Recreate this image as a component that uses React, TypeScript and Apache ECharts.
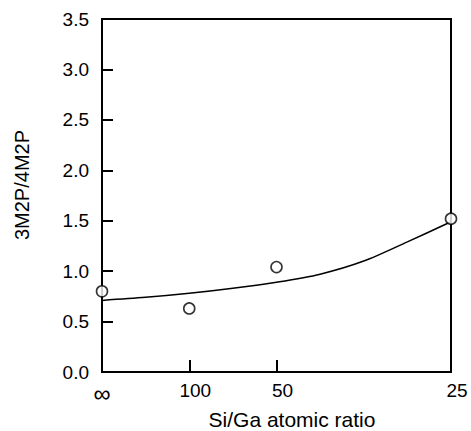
import React, { useEffect, useRef } from "react";
import * as echarts from "echarts";

// Ga/Si (= 1 / (Si/Ga)) positions of the measured samples
const sampleX = [0, 0.01, 0.02, 0.04];
const sampleY = [0.8, 0.63, 1.04, 1.52];
// fitted curve
const curveX = [0, 0.005, 0.01, 0.015, 0.02, 0.025, 0.03, 0.035, 0.04];
const curveY = [0.71, 0.74, 0.78, 0.83, 0.89, 0.97, 1.1, 1.29, 1.49];
// tick labels on the x axis (Si/Ga ratio)
const xTickValues = [0, 0.01, 0.02, 0.04];
const xTickLabels = ["∞", "100", "50", "25"];
const yTicks = [0, 0.5, 1, 1.5, 2, 2.5, 3, 3.5];

const FONT = "Liberation Sans, Arial, Helvetica, sans-serif";

export default function App() {
  const ref = useRef<HTMLDivElement>(null);
  useEffect(() => {
    const chart = echarts.init(ref.current!, null, { renderer: "svg" });
    const gl = 102, gt = 19, gr = 20, gb = 59;
    chart.setOption({
      animation: false,
      backgroundColor: "#fff",
      grid: {
        left: gl, top: gt, right: gr, bottom: gb,
        show: true, borderColor: "#000", borderWidth: 2, backgroundColor: "transparent",
      },
      xAxis: {
        type: "value",
        min: 0, max: 0.04, interval: 0.01,
        splitLine: { show: false },
        axisLine: { show: true, lineStyle: { color: "#000", width: 2 } },
        axisTick: { show: true, inside: true, length: 12, customValues: [0.01, 0.02], lineStyle: { color: "#000", width: 2 } },
        axisLabel: {
          customValues: xTickValues,
          margin: 9,
          color: "#000",
          fontFamily: FONT,
          fontSize: 19,
          formatter: (v: number) => {
            const i = xTickValues.findIndex((t) => Math.abs(t - v) < 1e-9);
            if (i < 0) return "";
            return i === 0 ? "{inf|" + xTickLabels[i] + "}" : "{n|" + xTickLabels[i] + "}";
          },
          rich: {
            inf: { fontSize: 24, fontFamily: FONT, color: "#000", padding: [0, 0, 4, 0] },
            n: { fontSize: 19, fontFamily: FONT, color: "#000", padding: [0, 0, 0, 12] },
          },
        },
      },
      yAxis: {
        type: "value",
        min: 0, max: 3.5, interval: 0.5,
        splitLine: { show: false },
        axisLine: { show: true, lineStyle: { color: "#000", width: 2 } },
        axisTick: { show: true, inside: true, length: 11, customValues: yTicks.slice(1, -1), lineStyle: { color: "#000", width: 2 } },
        axisLabel: {
          margin: 13,
          color: "#000",
          fontFamily: FONT,
          fontSize: 19,
          formatter: (v: number) => v.toFixed(1),
        },
      },
      graphic: [
        {
          type: "text",
          x: 292, y: 430,
          style: { text: "Si/Ga atomic ratio", fontFamily: FONT, fontSize: 21, fill: "#000", align: "center", verticalAlign: "bottom" },
        },
        {
          type: "text",
          x: 22, y: 185, rotation: Math.PI / 2,
          style: { text: "3M2P/4M2P", fontFamily: FONT, fontSize: 20, fill: "#000", align: "center", verticalAlign: "middle" },
        },
      ],
      series: [
        {
          type: "line",
          data: curveX.map((x, i) => [x, curveY[i]]),
          smooth: 0.3,
          showSymbol: false,
          symbol: "none",
          clip: false,
          lineStyle: { color: "#000", width: 1.5 },
          z: 3,
        },
        {
          type: "scatter",
          data: sampleX.map((x, i) => [x, sampleY[i]]),
          symbol: "circle",
          symbolSize: 11,
          clip: false,
          itemStyle: { color: "#fff", borderColor: "#000", borderWidth: 1.6 },
          z: 5,
        },
      ],
    });
    return () => chart.dispose();
  }, []);
  return <div ref={ref} style={{ width: 471, height: 431, position: "absolute", left: 0, top: 0 }} />;
}
